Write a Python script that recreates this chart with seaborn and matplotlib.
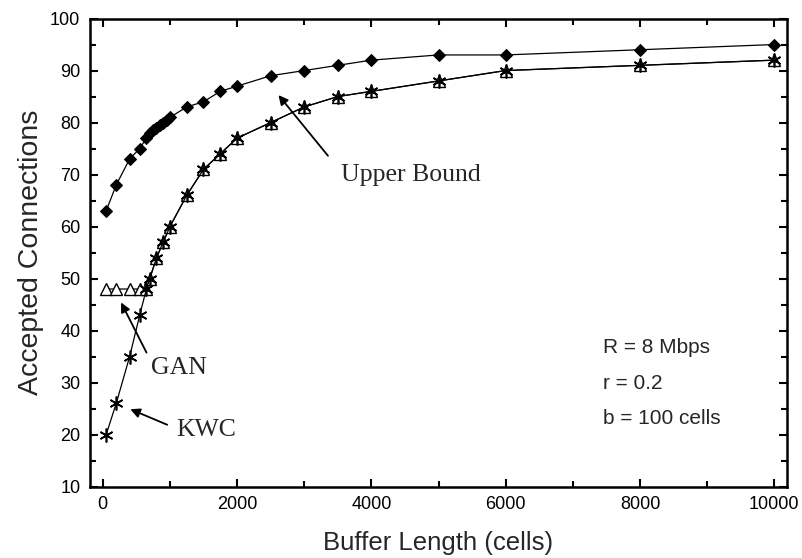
import matplotlib
matplotlib.use("Agg")
import matplotlib.pyplot as plt
from matplotlib.ticker import MultipleLocator
import seaborn as sns
import pandas as pd

# valores
buf_upper = [50, 200, 400, 550, 650, 700, 750, 800, 850, 900, 950, 1000,
             1250, 1500, 1750, 2000, 2500, 3000, 3500, 4000, 5000, 6000, 8000, 10000]
upper = [63, 68, 73, 75, 77, 78, 78.5, 79, 79.5, 80, 80.5, 81,
         83, 84, 86, 87, 89, 90, 91, 92, 93, 93, 94, 95]

buf_kwc = [50, 200, 400, 550, 650, 700, 800, 900, 1000, 1250, 1500, 1750,
           2000, 2500, 3000, 3500, 4000, 5000, 6000, 8000, 10000]
kwc = [20, 26, 35, 43, 48, 50, 54, 57, 60, 66, 71, 74,
       77, 80, 83, 85, 86, 88, 90, 91, 92]
gan = [48, 48, 48, 48, 48, 50, 54, 57, 60, 66, 71, 74,
       77, 80, 83, 85, 86, 88, 90, 91, 92]

df_up = pd.DataFrame({"buffer": buf_upper, "conn": upper})
df_kwc = pd.DataFrame({"buffer": buf_kwc, "kwc": kwc, "gan": gan})

sns.set_style("ticks")
plt.rcParams["font.family"] = ["Liberation Sans", "DejaVu Sans"]

fig = plt.figure(figsize=(8.03, 5.58), dpi=100)
ax = fig.add_axes([0.1121, 0.1278, 0.868, 0.839])

sns.lineplot(data=df_up, x="buffer", y="conn", ax=ax, color="black", lw=0.9,
             marker="D", markersize=6.5, markeredgecolor="black", markerfacecolor="black")
sns.lineplot(data=df_kwc, x="buffer", y="gan", ax=ax, color="black", lw=0.9,
             marker="^", markersize=8, markerfacecolor="white", markeredgecolor="black",
             markeredgewidth=1.0)
sns.lineplot(data=df_kwc, x="buffer", y="kwc", ax=ax, color="black", lw=0.9,
             marker=(6, 2, 0), markersize=10, markeredgecolor="black", markeredgewidth=1.2)

ax.set_xlim(-190, 10190)
ax.set_ylim(10, 100)
ax.xaxis.set_major_locator(MultipleLocator(2000))
ax.xaxis.set_minor_locator(MultipleLocator(1000))
ax.yaxis.set_major_locator(MultipleLocator(10))
ax.yaxis.set_minor_locator(MultipleLocator(5))

for s in ax.spines.values():
    s.set_visible(True)
    s.set_linewidth(1.8)
    s.set_color("black")
ax.tick_params(which="both", direction="in", top=True, right=True, colors="black",
               labelsize=13, width=1.5)
ax.tick_params(which="major", length=6, pad=7)
ax.tick_params(which="minor", length=4)

ax.set_xlabel("Buffer Length (cells)", fontsize=18.5, labelpad=13)
ax.set_ylabel("Accepted Connections", fontsize=20.5, labelpad=4)

# anotacoes com setas
serif = ["Liberation Serif", "DejaVu Serif"]
arrow = dict(arrowstyle="-|>", color="black", lw=1.3, mutation_scale=14)
ax.text(4590, 69.9, "Upper Bound", fontsize=18.5, family=serif, ha="center", va="center")
ax.annotate("", xy=(2590, 85.7), xytext=(3380, 73.2), arrowprops=arrow)
ax.text(1133, 32.8, "GAN", fontsize=18.5, family=serif, ha="center", va="center")
ax.annotate("", xy=(253, 45.9), xytext=(670, 35.3), arrowprops=arrow)
ax.text(1535, 20.9, "KWC", fontsize=18.5, family=serif, ha="center", va="center")
ax.annotate("", xy=(372, 25.1), xytext=(998, 21.7), arrowprops=arrow)

ax.text(7450, 36.7, "R = 8 Mbps", fontsize=15, va="center")
ax.text(7450, 29.9, "r = 0.2", fontsize=15, va="center")
ax.text(7450, 23.2, "b = 100 cells", fontsize=15, va="center")

fig.savefig("out.png", dpi=100)
